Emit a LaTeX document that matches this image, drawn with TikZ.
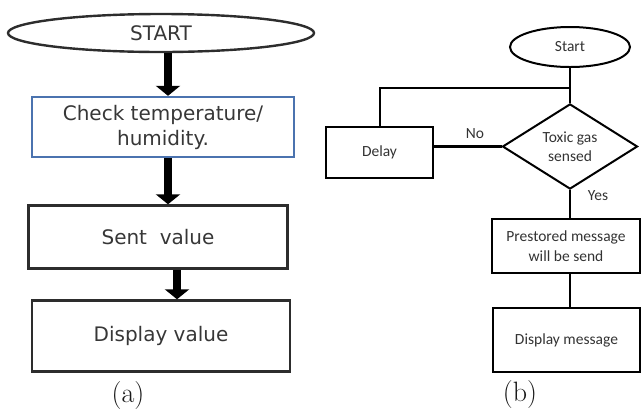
\documentclass[tikz,border=0pt]{standalone}
\usepackage{fontspec}
\usetikzlibrary{shapes.geometric,arrows.meta}
\newfontfamily\dvfont{DejaVu Sans}
\newfontfamily\cbfont{Carlito}
\definecolor{boxgray}{RGB}{45,45,45}
\definecolor{txtgray}{RGB}{55,55,55}
\definecolor{bordblue}{RGB}{75,115,175}
\tikzset{
  aline/.style={draw=boxgray, line width=2.4pt},
  abox/.style={aline, rectangle, inner sep=0pt, align=center, text=txtgray,
    font=\dvfont\fontsize{20}{25}\selectfont},
  bline/.style={draw=black, line width=2pt},
  bbox/.style={bline, rectangle, inner sep=0pt, align=center, text=black!80,
    font=\cbfont\fontsize{15.5}{19.5}\selectfont},
  bigarrow/.style={draw=black, line width=8pt, -{Triangle[width=24pt,length=10pt]}},
  blabel/.style={text=black!80, font=\cbfont\fontsize{15.5}{19}\selectfont},
  sublabel/.style={text=black!90, font=\fontsize{28}{30}\selectfont}
}
\begin{document}
\begin{tikzpicture}[x=1pt,y=-1pt]
\useasboundingbox (0,0) rectangle (641,416);
% ---------- (a) ----------
\node[abox, ellipse, minimum width=306pt, minimum height=38pt] (startA) at (161,33) {START};
\node[abox, draw=bordblue, minimum width=262pt, minimum height=60pt] (check) at (163,127) {Check temperature/\\humidity.};
\node[abox, minimum width=259pt, minimum height=63pt] (sent) at (158,237) {Sent\ \ value};
\node[abox, minimum width=258pt, minimum height=71pt] (dispA) at (161,336) {Display value};
\coordinate (xa1) at (168,0);
\coordinate (xa3) at (177,0);
\draw[bigarrow] (startA.south -| xa1) -- (check.north -| xa1);
\draw[bigarrow] (check.south -| xa1) -- (sent.north -| xa1);
\draw[bigarrow] (sent.south -| xa3) -- (dispA.north -| xa3);
\node[sublabel] (la) at (128,396) {(a)};
% ---------- (b) ----------
\node[bbox, ellipse, minimum width=120pt, minimum height=40pt] (startB) at (570,47) {Start};
\node[bbox, diamond, minimum width=135pt, minimum height=63pt] (dec) at (570,146.5) {Toxic gas\\sensed};
\node[bbox, minimum width=107pt, minimum height=51pt] (delay) at (379.5,152.5) {Delay};
\node[bbox, minimum width=148pt, minimum height=54pt] (pres) at (566,246) {Prestored message\\will be send};
\node[bbox, minimum width=147pt, minimum height=64pt] (dispB) at (566.5,340) {Display message};
\coordinate (j) at (570,88);
\draw[bline] (startB.south) -- (dec.north);
\draw[bline] (j) -| (delay.north);
\draw[bline, line width=3pt] (dec.west) -- (dec.west -| delay.east);
\draw[bline] (dec.south) -- (pres.north -| dec.south);
\draw[bline] (pres.south -| dec.south) -- (dispB.north -| dec.south);
\node[blabel] (no) at (475,134) {No};
\node[blabel] (yes) at (598,196) {Yes};
\node[sublabel] (lb) at (520,395) {(b)};
\end{tikzpicture}
\end{document}
